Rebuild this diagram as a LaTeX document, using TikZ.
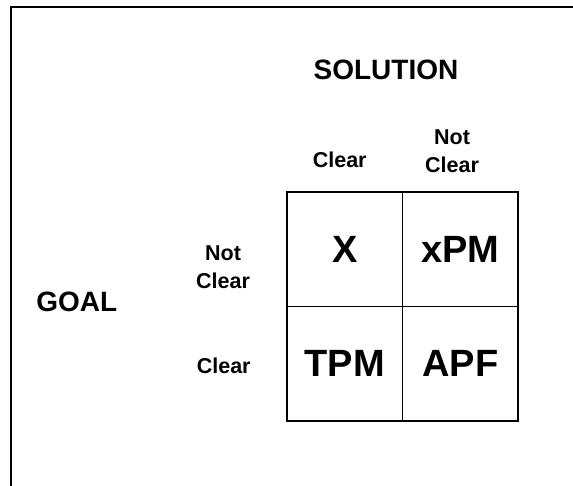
\documentclass[tikz,border=0pt]{standalone}
\usepackage{fontspec}
\setmainfont{Liberation Sans}
\begin{document}
\begin{tikzpicture}[x=1pt,y=-1pt,
  heading/.style={font=\bfseries\fontsize{28}{30}\selectfont, inner sep=0pt},
  axislabel/.style={font=\bfseries\fontsize{21.5}{28}\selectfont, inner sep=0pt, align=center},
  cell/.style={draw, line width=1.5pt, minimum width=115.5pt, minimum height=114.5pt,
               inner sep=0pt, font=\bfseries\fontsize{38}{40}\selectfont},
  frame/.style={line width=1.6pt}]
  \useasboundingbox (0,0) rectangle (573,485);
  \clip (0,0) rectangle (573,485);
  % outer frame, open to the right and below
  \draw[frame] (11,600) -- (11,7) -- (700,7);

  % the 2x2 matrix
  \node[cell] (x)   at (344.75,249)   {X};
  \node[cell] (xpm) at (460.25,249)   {xPM};
  \node[cell] (tpm) at (344.75,363.5) {TPM};
  \node[cell] (apf) at (460.25,363.5) {APF};

  % axis titles
  \node[heading] (solution) at (386,70.3) {SOLUTION};
  \node[heading] (goal) at (76.7,301.7) {GOAL};

  % column headers
  \node[axislabel] (colclear) at (339.7,159.5) {Clear};
  \node[axislabel] (colnot) at (452,151.5) {Not\\Clear};

  % row headers
  \node[axislabel] (rownot) at (223,267.5) {Not\\Clear};
  \node[axislabel] (rowclear) at (223.7,366) {Clear};
\end{tikzpicture}
\end{document}
